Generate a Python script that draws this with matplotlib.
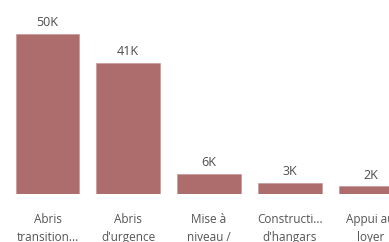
import matplotlib
matplotlib.use("Agg")
import matplotlib.pyplot as plt

# data
categories = ["Abris\ntransition...", "Abris\nd'urgence", "Mise à\nniveau /",
              "Constructi...\nd'hangars", "Appui au\nloyer"]
values = [50000, 41000, 6200, 3400, 2400]
value_labels = ["50K", "41K", "6K", "3K", "2K"]

BAR = "#ae6d6d"

plt.rcParams["font.family"] = ["Open Sans", "DejaVu Sans"]

fig = plt.figure(figsize=(3.89, 2.42), dpi=100)
ax = fig.add_axes([0, 0.198, 1, 0.802])
x = list(range(len(values)))
ax.bar(x, values, width=0.79, color=BAR, edgecolor="#c89898", linewidth=0.5)
for xi, v, lab in zip(x, values, value_labels):
    ax.annotate(lab, (xi, v), xytext=(0, 3.5), textcoords="offset points",
                ha="center", va="bottom", fontsize=9, color="#4d4d4d")
ax.set_xlim(-0.588, 4.23)
ax.set_ylim(0, 60600)
ax.set_xticks(x)
ax.set_xticklabels(categories, fontsize=8.5, color="#555555", linespacing=1.55)
ax.tick_params(axis="x", length=0, pad=13.5)
ax.set_yticks([])
for s in ax.spines.values():
    s.set_visible(False)

fig.savefig("out.png", dpi=100)
